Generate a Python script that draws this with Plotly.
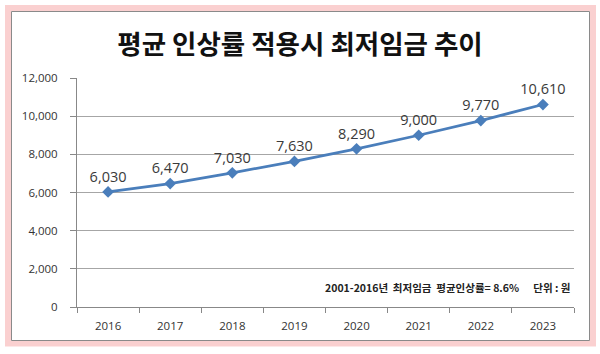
import plotly.graph_objects as go

years = ["2016", "2017", "2018", "2019", "2020", "2021", "2022", "2023"]
wages = [6030, 6470, 7030, 7630, 8290, 9000, 9770, 10610]
wage_labels = ["6,030", "6,470", "7,030", "7,630", "8,290", "9,000", "9,770", "10,610"]
y_ticks = [0, 2000, 4000, 6000, 8000, 10000, 12000]
y_tick_labels = ["0", "2,000", "4,000", "6,000", "8,000", "10,000", "12,000"]

W, H = 600, 354
L, R, T, B = 77, 26, 78, 47
pw, ph = W - L - R, H - T - B

def px(x):
    return (x - L) / pw

def py(y):
    return 1 - (y - T) / ph

fig = go.Figure()
fig.add_trace(go.Scatter(
    x=years, y=wages, mode="lines+markers+text",
    text=wage_labels, textposition="top center",
    textfont=dict(family="Open Sans, Noto Sans, sans-serif", size=14.5, color="#3a3a3a"),
    line=dict(color="#4a7ebb", width=2.75),
    marker=dict(symbol="diamond", size=9, color="#4a7ebb"),
    cliponaxis=False, showlegend=False,
))

shapes = [
    dict(type="rect", xref="paper", yref="paper", x0=px(8), x1=px(593), y0=py(8), y1=py(343.5),
         line=dict(color="rgba(245,150,150,0.45)", width=6), fillcolor="rgba(0,0,0,0)", layer="below"),
    dict(type="rect", xref="paper", yref="paper", x0=px(11.5), x1=px(589.5), y0=py(11.5), y1=py(340.5),
         line=dict(color="#8a8a8a", width=1), fillcolor="rgba(0,0,0,0)", layer="below"),
]

fig.update_layout(
    width=W, height=H,
    margin=dict(l=L, r=R, t=T, b=B, pad=0),
    paper_bgcolor="white", plot_bgcolor="white",
    shapes=shapes,
    title=dict(text="<b>평균 인상률 적용시 최저임금 추이</b>", x=px(300), xref="paper", xanchor="center",
               y=1 - 45 / H, yanchor="middle",
               font=dict(family="Noto Sans CJK KR", size=26.5, color="#111111")),
    xaxis=dict(type="category", tickson="boundaries", ticks="outside", ticklen=5,
               tickcolor="#888888", showline=True, linecolor="#888888", linewidth=1,
               showgrid=False, ticklabelstandoff=8,
               tickfont=dict(family="Open Sans, Noto Sans, sans-serif", size=11.5, color="#333333"),
               range=[-0.5, 7.5]),
    yaxis=dict(range=[0, 12000], tickvals=y_ticks, ticktext=y_tick_labels, ticks="outside", ticklen=6,
               tickcolor="#888888", showline=True, linecolor="#888888", linewidth=1,
               showgrid=True, gridcolor="#a6a6a6", gridwidth=1, zeroline=False,
               ticklabelstandoff=10,
               tickfont=dict(family="Open Sans, Noto Sans, sans-serif", size=11.5, color="#333333")),
    annotations=[dict(text="<b>2001-2016년  최저임금  평균인상률= 8.6%      단위 : 원</b>",
                      xref="paper", yref="paper", x=px(573), y=py(287), xanchor="right", yanchor="middle",
                      showarrow=False, font=dict(family="Noto Sans CJK KR", size=10.5, color="#222222"))],
)

fig.write_html("out.html")
